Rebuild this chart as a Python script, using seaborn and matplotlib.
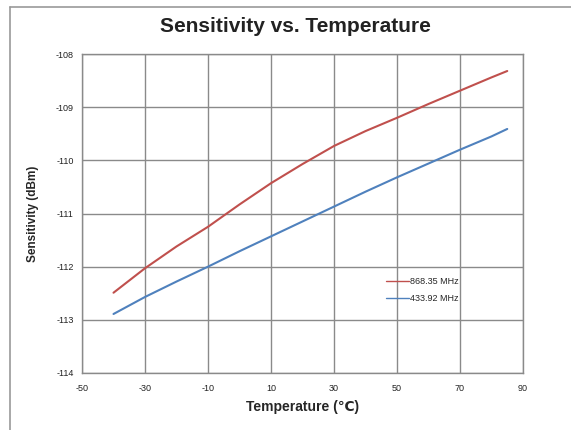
import matplotlib
matplotlib.use("Agg")
import matplotlib.pyplot as plt
import seaborn as sns
import pandas as pd
from matplotlib.lines import Line2D

temps = [-40, -30, -20, -10, 0, 10, 20, 30, 40, 50, 60, 70, 80, 85]
sens_868 = [-112.49, -112.03, -111.62, -111.25, -110.83, -110.43, -110.07,
            -109.73, -109.45, -109.20, -108.94, -108.69, -108.44, -108.32]
sens_433 = [-112.89, -112.57, -112.28, -112.00, -111.71, -111.43, -111.15,
            -110.87, -110.59, -110.32, -110.06, -109.80, -109.55, -109.41]
series_names = ["868.35 MHz", "433.92 MHz"]
xticks = [-50, -30, -10, 10, 30, 50, 70, 90]
yticks = [-114, -113, -112, -111, -110, -109, -108]

df = pd.concat([
    pd.DataFrame({"T": temps, "S": sens_868, "Freq": series_names[0]}),
    pd.DataFrame({"T": temps, "S": sens_433, "Freq": series_names[1]}),
])

sns.set_style("white")
plt.rcParams["font.family"] = ["Liberation Sans", "DejaVu Sans"]

fig = plt.figure(figsize=(5.71, 4.30), dpi=100)
ax = fig.add_axes([82/571, 1-373/430, (523-82)/571, (373-54)/430])

palette = {series_names[0]: "#C0504D", series_names[1]: "#4F81BD"}
sns.lineplot(data=df, x="T", y="S", hue="Freq", palette=palette, ax=ax,
             linewidth=1.5, legend=True)

ax.set_xlim(-50, 90)
ax.set_ylim(-114, -108)
ax.set_xticks(xticks)
ax.set_yticks(yticks)
ax.set_xticklabels([str(t) for t in xticks])
ax.set_yticklabels([str(t) for t in yticks])
ax.tick_params(axis="both", length=0, labelsize=6.5, colors="#222222")
ax.tick_params(axis="x", pad=8)
ax.tick_params(axis="y", pad=6)
ax.grid(True, color="#8a8a8a", linewidth=1.0)
ax.set_axisbelow(True)
for s in ax.spines.values():
    s.set_visible(True)
    s.set_color("#8a8a8a")
    s.set_linewidth(1.0)

ax.set_xlabel("Temperature (℃)", fontsize=10, fontweight="bold", labelpad=5)
ax.set_ylabel("Sensitivity (dBm)", fontsize=8.5, fontweight="bold", labelpad=12)

leg = ax.legend(loc="center left", bbox_to_anchor=(0.67, 0.26), frameon=False,
                fontsize=6.5, handlelength=2.6, handletextpad=0.15, labelspacing=0.8)
for h in leg.get_lines():
    h.set_linewidth(1.0)

fig.text(295/571, 1-26/430, "Sensitivity vs. Temperature", ha="center", va="center",
         fontsize=15, fontweight="bold", color="#222222")

fig.add_artist(Line2D([10/571, 10/571], [0, 1-7/430], transform=fig.transFigure,
                      color="#999999", linewidth=1.2))
fig.add_artist(Line2D([10/571, 1], [1-7/430, 1-7/430], transform=fig.transFigure,
                      color="#999999", linewidth=1.2))

fig.savefig("out.png", dpi=100)
